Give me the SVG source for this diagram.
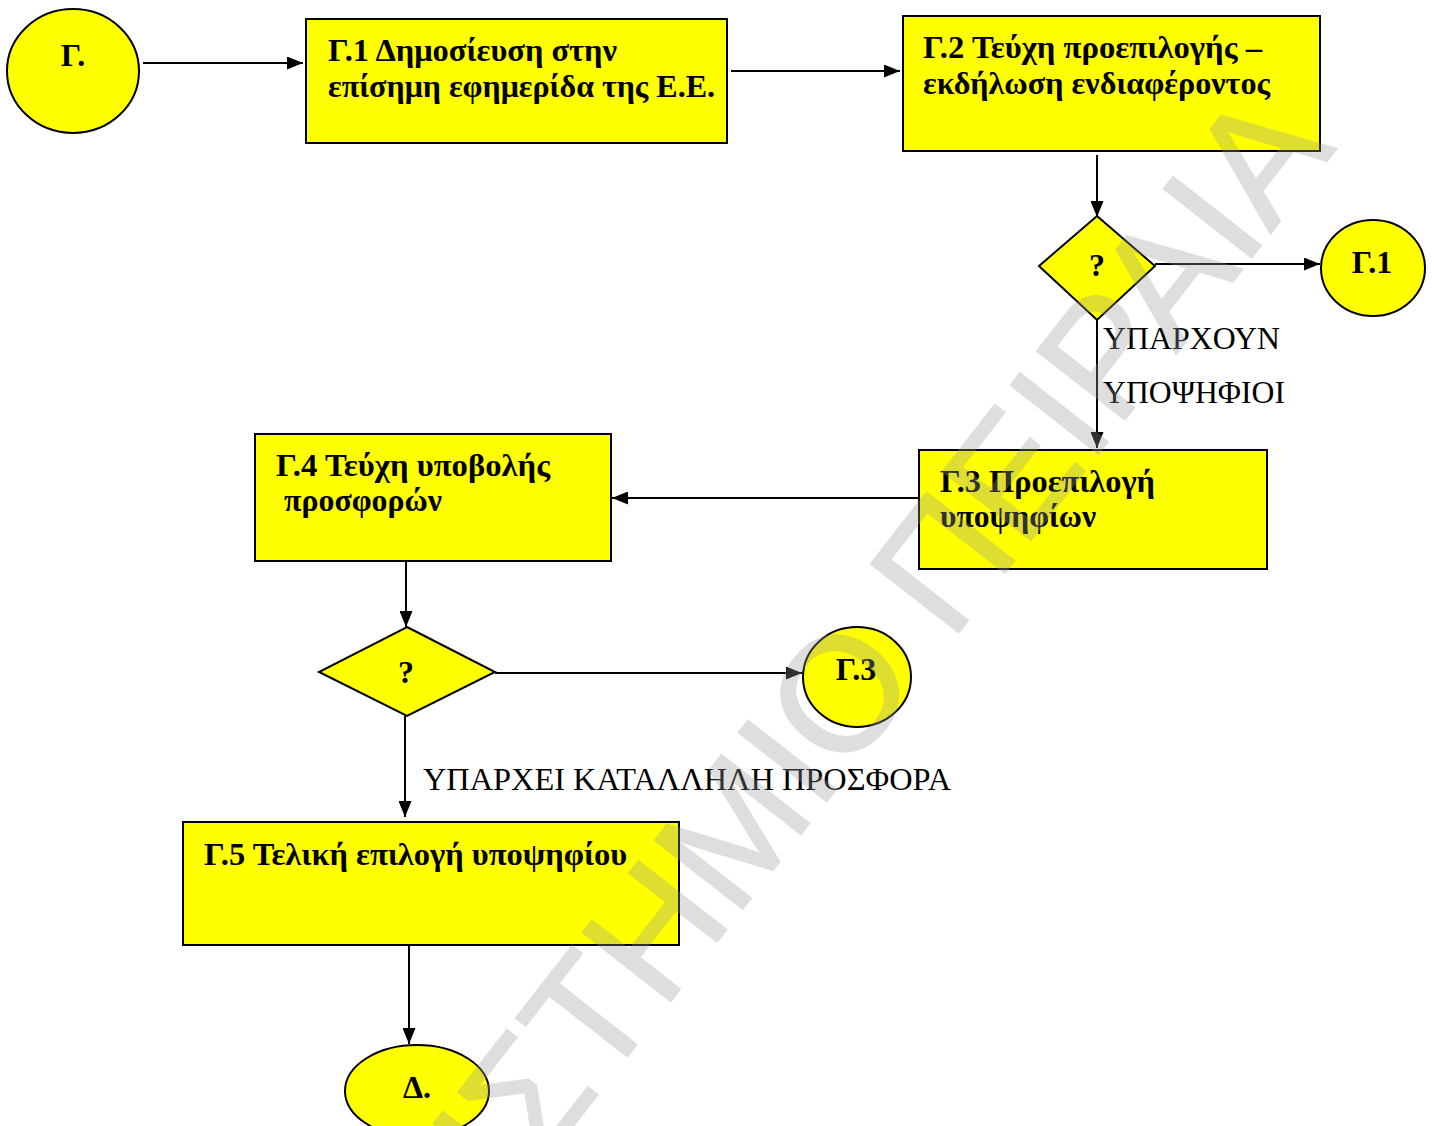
<svg xmlns="http://www.w3.org/2000/svg" width="1434" height="1126" viewBox="0 0 1434 1126">
<defs>
<marker id="ah" viewBox="0 0 16 13" refX="16" refY="6.5" markerWidth="16" markerHeight="13" markerUnits="userSpaceOnUse" orient="auto">
<path d="M0,0 L16,6.5 L0,13 Z" fill="#000"/>
</marker>
<style>
.shape{fill:#ffff00;stroke:#000;stroke-width:2}
.b{font-family:"Liberation Serif","Times New Roman",serif;font-weight:bold;font-size:32px;fill:#000}
.r{font-family:"Liberation Serif","Times New Roman",serif;font-size:32px;fill:#000}
.c{text-anchor:middle}
.ln{stroke:#000;stroke-width:2;fill:none}
.wm{font-family:"Liberation Sans",Arial,sans-serif;font-size:162px;fill:#9a9a9a;stroke:#9a9a9a;stroke-width:2;opacity:0.32}
</style>
</defs>
<rect width="1434" height="1126" fill="#fff"/>
<g id="connectors">
<line class="ln" x1="143" y1="63" x2="303" y2="63" marker-end="url(#ah)"/>
<line class="ln" x1="731" y1="71" x2="900" y2="71" marker-end="url(#ah)"/>
<line class="ln" x1="1097" y1="155" x2="1097" y2="217" marker-end="url(#ah)"/>
<line class="ln" x1="1155" y1="264" x2="1320" y2="264" marker-end="url(#ah)"/>
<line class="ln" x1="1097" y1="320" x2="1097" y2="448" marker-end="url(#ah)"/>
<line class="ln" x1="919" y1="498" x2="612" y2="498" marker-end="url(#ah)"/>
<line class="ln" x1="406" y1="562" x2="406" y2="627" marker-end="url(#ah)"/>
<line class="ln" x1="495" y1="673" x2="802" y2="673" marker-end="url(#ah)"/>
<line class="ln" x1="405" y1="716" x2="405" y2="817" marker-end="url(#ah)"/>
<line class="ln" x1="409" y1="946" x2="409" y2="1044" marker-end="url(#ah)"/>
<text class="r" x="1103" y="349" textLength="177" lengthAdjust="spacingAndGlyphs">ΥΠΑΡΧΟΥΝ</text>
<text class="r" x="1103" y="403" textLength="182" lengthAdjust="spacingAndGlyphs">ΥΠΟΨΗΦΙΟΙ</text>
<text class="r" x="423" y="790" textLength="528" lengthAdjust="spacingAndGlyphs">ΥΠΑΡΧΕΙ ΚΑΤΑΛΛΗΛΗ ΠΡΟΣΦΟΡΑ</text>
</g>
<g id="start-G">
<ellipse class="shape" cx="73" cy="71" rx="66" ry="62"/>
<text class="b c" x="73" y="66">Γ.</text>
</g>
<g id="G1">
<rect class="shape" x="306" y="19" width="421" height="124"/>
<text class="b" x="328" y="61" textLength="289" lengthAdjust="spacingAndGlyphs">Γ.1 Δημοσίευση στην</text>
<text class="b" x="328" y="97" textLength="387" lengthAdjust="spacingAndGlyphs">επίσημη εφημερίδα της Ε.Ε.</text>
</g>
<g id="G2">
<rect class="shape" x="903" y="16" width="417" height="135"/>
<text class="b" x="923" y="58" textLength="339" lengthAdjust="spacingAndGlyphs">Γ.2 Τεύχη προεπιλογής –</text>
<text class="b" x="923" y="94" textLength="347" lengthAdjust="spacingAndGlyphs">εκδήλωση ενδιαφέροντος</text>
</g>
<g id="D1">
<polygon class="shape" points="1097,216 1155,266 1097,320 1039,266"/>
<text class="b c" x="1097" y="276">?</text>
</g>
<g id="ref-G1">
<ellipse class="shape" cx="1373" cy="268" rx="52" ry="48"/>
<text class="b c" x="1372" y="273">Γ.1</text>
</g>
<g id="G3">
<rect class="shape" x="919" y="450" width="348" height="119"/>
<text class="b" x="940" y="492" textLength="215" lengthAdjust="spacingAndGlyphs">Γ.3 Προεπιλογή</text>
<text class="b" x="940" y="527" textLength="156" lengthAdjust="spacingAndGlyphs">υποψηφίων</text>
</g>
<g id="G4">
<rect class="shape" x="255" y="434" width="356" height="127"/>
<text class="b" x="276" y="476" textLength="274" lengthAdjust="spacingAndGlyphs">Γ.4 Τεύχη υποβολής</text>
<text class="b" x="284" y="511" textLength="158" lengthAdjust="spacingAndGlyphs">προσφορών</text>
</g>
<g id="D2">
<polygon class="shape" points="407,627 495,672 407,716 319,672"/>
<text class="b c" x="406" y="683">?</text>
</g>
<g id="ref-G3">
<ellipse class="shape" cx="857" cy="677" rx="54" ry="50"/>
<text class="b c" x="856" y="680">Γ.3</text>
</g>
<g id="G5">
<rect class="shape" x="183" y="822" width="496" height="123"/>
<text class="b" transform="translate(204,865) scale(0.8,1)" x="0" y="0" textLength="529" lengthAdjust="spacingAndGlyphs">Γ.5 Τελική επιλογή υποψηφίου</text>
</g>
<g id="end-D">
<ellipse class="shape" cx="417" cy="1091" rx="72" ry="46"/>
<text class="b c" x="417" y="1098">Δ.</text>
</g>
<g id="watermark">
<text class="wm" transform="translate(884,728) rotate(-52)" x="-1171" y="0">ΠΑΝΕΠΙΣΤΗΜΙΟ ΠΕΙΡΑΙΑ</text>
</g>
</svg>
